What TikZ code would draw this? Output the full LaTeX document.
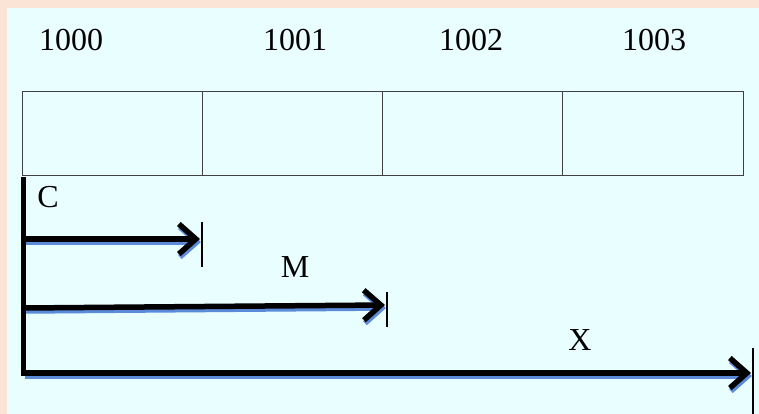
\documentclass[tikz,border=0pt]{standalone}
\usepackage{fontspec}
\setmainfont{Liberation Serif}
\usetikzlibrary{arrows.meta}
\definecolor{peach}{HTML}{FBE3D6}
\definecolor{panel}{HTML}{E9FEFF}
\definecolor{shadowblue}{HTML}{5B8BD8}
\definecolor{cellline}{HTML}{404040}
\begin{document}
\begin{tikzpicture}[x=1pt,y=-1pt,
  cell/.style={draw=cellline,line width=1pt,minimum width=180pt,minimum height=84pt,inner sep=0pt,anchor=north west},
  lbl/.style={font=\fontsize{32}{33}\selectfont,inner sep=0pt},
  shaft/.style={line width=5.5pt,-{Straight Barb[length=17pt,width=30pt]}},
  shadow/.style={shaft,draw=shadowblue},
  tick/.style={line width=2pt}]
\fill[peach] (0,0) rectangle (759,414);
\fill[panel] (7,8) rectangle (759,414);
\useasboundingbox (0,0) rectangle (759,414);
% cells
\node[cell] (c0) at (22,91) {};
\node[cell] (c1) at (202,91) {};
\node[cell] (c2) at (382,91) {};
\node[cell,minimum width=181pt] (c3) at (562,91) {};
% addresses
\node[lbl] (a0) at (71,40) {1000};
\node[lbl] (a1) at (295,40) {1001};
\node[lbl] (a2) at (471,40) {1002};
\node[lbl] (a3) at (654,40) {1003};
% coordinates
\coordinate (top) at (23.5,177);
\coordinate (bot) at (23.5,376);
\coordinate (cs) at (23.5,239);
\coordinate (ce) at (200,239);
\coordinate (ms) at (23.5,308);
\coordinate (me) at (385,305);
\coordinate (xs) at (23.5,373);
\coordinate (xe) at (751,373);
\coordinate (ct1) at (202,222);
\coordinate (ct2) at (202,267);
\coordinate (mt1) at (387,292);
\coordinate (mt2) at (387,327);
\coordinate (xt1) at (753,348);
\coordinate (xt2) at (753,414);
% shadows
\draw[shadow] ([shift={(1,3)}]cs) -- ([shift={(1,3)}]ce);
\draw[shadow] ([shift={(1,3)}]ms) -- ([shift={(1,3)}]me);
\draw[shadow] ([shift={(1,3)}]xs) -- ([shift={(1,3)}]xe);
% arrows
\draw[shaft] (cs) -- (ce);
\draw[shaft] (ms) -- (me);
\draw[shaft] (xs) -- (xe);
\draw[line width=5pt] (top) -- (bot);
\draw[tick] (ct1) -- (ct2);
\draw[tick] (mt1) -- (mt2);
\draw[tick] (xt1) -- (xt2);
% labels
\node[lbl] (lc) at (48,197) {C};
\node[lbl] (lm) at (295,267) {M};
\node[lbl] (lx) at (580,340) {X};
\end{tikzpicture}
\end{document}
